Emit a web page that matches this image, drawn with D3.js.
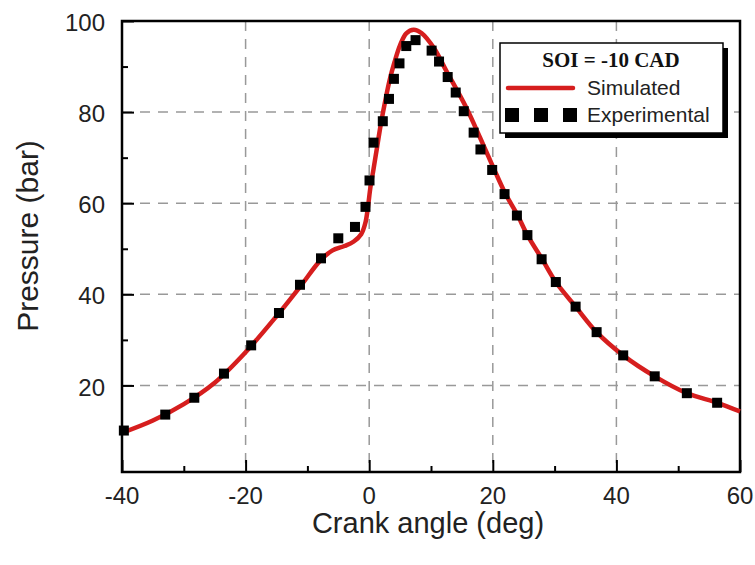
<!DOCTYPE html>
<html>
<head>
<meta charset="utf-8">
<script src="https://cdn.jsdelivr.net/npm/d3@7"></script>
<style>
  body { margin: 0; background: #fff; }
  svg { display: block; }
</style>
</head>
<body>
<div id="chart"></div>
<script>
// Simulated pressure trace (crank angle deg, pressure bar)
var simAngle = [-40, -35, -30, -25, -20, -15, -11, -8, -6, -4, -2.5, -1.3, -0.6, -0.2, 0.2, 0.7, 1.3, 1.9, 2.6, 3.3, 4.1, 5.0, 6.0, 7.2, 8.5, 10.5, 12.5, 15.7, 18, 20.2, 22, 24, 25.6, 28, 30.2, 33.4, 36.8, 41.1, 46.2, 51.4, 56.3, 60];
var simPressure = [9.6, 12.3, 15.9, 20.6, 27.3, 35.2, 42.0, 47.3, 49.6, 50.6, 51.6, 53.2, 55.8, 59.2, 63.5, 67.5, 72.5, 77.5, 82.5, 87.0, 91.0, 94.7, 97.3, 98.1, 97.3, 94.0, 89.0, 81.0, 74.2, 67.5, 62.2, 57.4, 53.0, 47.7, 42.7, 37.3, 31.7, 26.6, 22.0, 18.3, 16.2, 14.3];

// Experimental points
var expAngle = [-39.7, -33.0, -28.3, -23.5, -19.1, -14.6, -11.2, -7.8, -5.0, -2.3, -0.6, 0.05, 0.7, 2.2, 3.2, 4.0, 4.9, 6.0, 7.5, 10.1, 11.3, 12.7, 14.0, 15.3, 16.9, 18.0, 19.9, 21.9, 23.9, 25.6, 27.9, 30.2, 33.4, 36.8, 41.1, 46.2, 51.4, 56.3];
var expPressure = [10.1, 13.6, 17.3, 22.6, 28.8, 35.9, 42.1, 47.9, 52.3, 54.8, 59.2, 65.0, 73.3, 78.0, 82.9, 87.3, 90.7, 94.5, 95.8, 93.5, 91.1, 87.7, 84.3, 80.2, 75.5, 71.8, 67.3, 62.0, 57.3, 53.0, 47.7, 42.7, 37.3, 31.7, 26.6, 22.0, 18.3, 16.2];

// Axis ticks
var xMajor = [-40, -20, 0, 20, 40, 60];
var xMinor = [-30, -10, 10, 30, 50];
var yMajor = [20, 40, 60, 80, 100];
var yMinor = [10, 30, 50, 70, 90];

var W = 755, H = 565;
// plot area edges (window.top is reserved, so use own names)
var pLeft = 122, pRight = 740, pTop = 21, pBottom = 472;

var x = d3.scaleLinear().domain([-40, 60]).range([pLeft, pRight]);
var y = d3.scaleLinear().domain([1, 100]).range([pBottom, pTop]);

var svg = d3.select("#chart")
    .append("svg")
    .attr("width", W)
    .attr("height", H);

// Grey dashed grid at the inner major ticks
svg.append("g")
    .selectAll("line")
    .data(xMajor.filter(d => d > -40 && d < 60))
    .enter()
    .append("line")
    .attr("x1", d => x(d)).attr("x2", d => x(d))
    .attr("y1", pTop).attr("y2", pBottom)
    .attr("stroke", "#999")
    .attr("stroke-width", 1.5)
    .attr("stroke-dasharray", "10,8");

svg.append("g")
    .selectAll("line")
    .data(yMajor.filter(d => d < 100))
    .enter()
    .append("line")
    .attr("x1", pLeft).attr("x2", pRight)
    .attr("y1", d => y(d)).attr("y2", d => y(d))
    .attr("stroke", "#999")
    .attr("stroke-width", 1.5)
    .attr("stroke-dasharray", "10,8");

// Axes: ticks point inward, labels drawn separately
svg.append("g")
    .attr("transform", "translate(0," + pBottom + ")")
    .call(d3.axisTop(x).tickValues(xMajor).tickSize(12).tickFormat(""));
svg.append("g")
    .attr("transform", "translate(0," + pBottom + ")")
    .call(d3.axisTop(x).tickValues(xMinor).tickSize(6).tickFormat(""));
svg.append("g")
    .attr("transform", "translate(" + pLeft + ",0)")
    .call(d3.axisRight(y).tickValues(yMajor).tickSize(12).tickFormat(""));
svg.append("g")
    .attr("transform", "translate(" + pLeft + ",0)")
    .call(d3.axisRight(y).tickValues(yMinor).tickSize(6).tickFormat(""));

svg.selectAll(".tick line").attr("stroke", "#000").attr("stroke-width", 2);
svg.selectAll(".domain").remove();

// Frame
svg.append("rect")
    .attr("x", pLeft)
    .attr("y", pTop)
    .attr("width", pRight - pLeft)
    .attr("height", pBottom - pTop)
    .attr("fill", "none")
    .attr("stroke", "#000")
    .attr("stroke-width", 2.5);

// Tick labels
svg.append("g")
    .selectAll("text")
    .data(xMajor)
    .enter()
    .append("text")
    .attr("x", d => x(d))
    .attr("y", pBottom + 32)
    .attr("text-anchor", "middle")
    .attr("font-family", "Liberation Sans, Arial, sans-serif")
    .attr("font-size", 24)
    .attr("fill", "#222")
    .text(d => d);

svg.append("g")
    .selectAll("text")
    .data(yMajor)
    .enter()
    .append("text")
    .attr("x", pLeft - 17)
    .attr("y", d => y(d))
    .attr("dy", "0.42em")
    .attr("text-anchor", "end")
    .attr("font-family", "Liberation Sans, Arial, sans-serif")
    .attr("font-size", 24)
    .attr("fill", "#222")
    .text(d => d);

// Axis titles
svg.append("text")
    .attr("x", (pLeft + pRight) / 2 - 3)
    .attr("y", 533)
    .attr("text-anchor", "middle")
    .attr("font-family", "Liberation Sans, Arial, sans-serif")
    .attr("font-size", 29)
    .attr("fill", "#222")
    .text("Crank angle (deg)");

svg.append("text")
    .attr("transform", "translate(38,236) rotate(-90)")
    .attr("text-anchor", "middle")
    .attr("font-family", "Liberation Sans, Arial, sans-serif")
    .attr("font-size", 30)
    .attr("fill", "#222")
    .text("Pressure (bar)");

// Simulated curve
var sim = simAngle.map((a, i) => [a, simPressure[i]]);
var line = d3.line()
    .x(d => x(d[0]))
    .y(d => y(d[1]))
    .curve(d3.curveCatmullRom.alpha(0.5));

svg.append("path")
    .datum(sim)
    .attr("d", line)
    .attr("fill", "none")
    .attr("stroke", "#d61e1e")
    .attr("stroke-width", 4.5)
    .attr("stroke-linejoin", "round");

// Experimental squares
var sq = 10;
svg.append("g")
    .selectAll("rect")
    .data(expAngle)
    .enter()
    .append("rect")
    .attr("x", (d) => x(d) - sq / 2)
    .attr("y", (d, i) => y(expPressure[i]) - sq / 2)
    .attr("width", sq)
    .attr("height", sq)
    .attr("fill", "#000");

// Legend box with drop shadow
var lg = svg.append("g");
lg.append("rect")
    .attr("x", 505).attr("y", 48)
    .attr("width", 223).attr("height", 90)
    .attr("fill", "#000");
lg.append("rect")
    .attr("x", 500).attr("y", 43)
    .attr("width", 223).attr("height", 90)
    .attr("fill", "#fff")
    .attr("stroke", "#000")
    .attr("stroke-width", 1.5);
lg.append("text")
    .attr("x", 611).attr("y", 67)
    .attr("text-anchor", "middle")
    .attr("font-family", "Liberation Serif, Times New Roman, serif")
    .attr("font-weight", "bold")
    .attr("font-size", 21)
    .attr("fill", "#111")
    .text("SOI = -10 CAD");
lg.append("line")
    .attr("x1", 508).attr("x2", 573)
    .attr("y1", 88).attr("y2", 88)
    .attr("stroke", "#d61e1e")
    .attr("stroke-width", 4.5)
    .attr("stroke-linecap", "round");
lg.append("text")
    .attr("x", 587).attr("y", 95)
    .attr("font-family", "Liberation Sans, Arial, sans-serif")
    .attr("font-size", 21)
    .attr("fill", "#222")
    .text("Simulated");
lg.selectAll(".lsq")
    .data([512, 541, 570])
    .enter()
    .append("rect")
    .attr("x", d => d - 7)
    .attr("y", 108)
    .attr("width", 14)
    .attr("height", 14)
    .attr("fill", "#000");
lg.append("text")
    .attr("x", 587).attr("y", 122)
    .attr("font-family", "Liberation Sans, Arial, sans-serif")
    .attr("font-size", 21)
    .attr("fill", "#222")
    .text("Experimental");
</script>
</body>
</html>
